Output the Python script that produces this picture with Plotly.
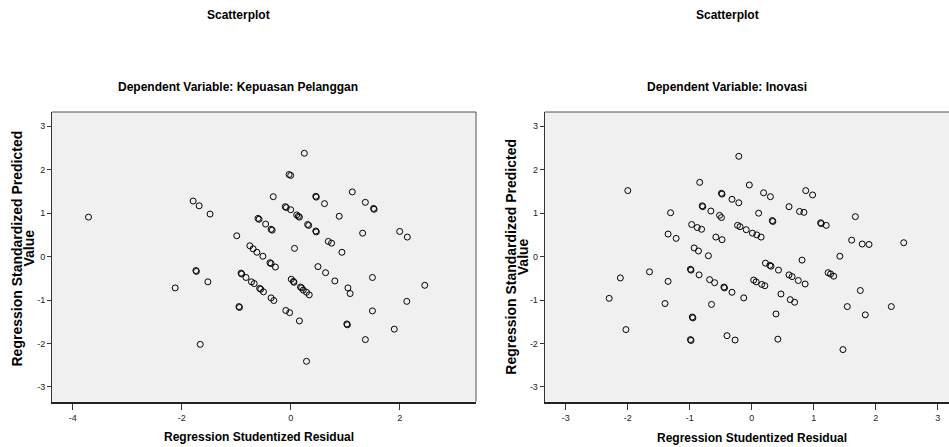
import plotly.graph_objects as go

W, H = 949, 447

# Left chart: Dependent Variable: Kepuasan Pelanggan
left_resid = [-3.71, 0.25, -0.03, 0.00, -1.79, -1.68, -1.48, -0.32, 0.46, 0.47, 0.62, 1.13, 1.37, 1.52, 1.53,
              -0.10, -0.08, 0.00, 0.11, 0.14, 0.16, 0.89, -0.60, -0.58, -0.46, -0.36, -0.34, 0.31, 0.33, 0.46,
              0.47, -0.99, 1.32, 2.00, 2.14, -0.75, -0.69, -0.62, -0.51, 0.07, 0.69, 0.75, 0.94, -0.38, -0.36,
              -0.28, -1.74, -1.73, -0.91, -0.90, -0.82, -0.72, -0.67, -1.52, -2.12, -0.57, -0.55, -0.50, -0.36,
              -0.31, 0.01, 0.05, 0.06, 0.50, 0.64, 0.81, 0.18, 0.20, 0.23, 0.29, 0.34, 1.05, 1.09, 1.50, 2.46,
              2.13, 1.50, 1.03, 1.04, 1.90, 1.37, -0.95, -0.94, -0.09, -0.02, 0.16, -1.66, 0.29]
left_pred = [0.91, 2.38, 1.89, 1.87, 1.28, 1.17, 0.98, 1.38, 1.39, 1.37, 1.22, 1.49, 1.25, 1.11, 1.09,
             1.15, 1.13, 1.08, 0.96, 0.93, 0.91, 0.93, 0.88, 0.86, 0.75, 0.63, 0.61, 0.74, 0.72, 0.59,
             0.57, 0.48, 0.54, 0.58, 0.45, 0.25, 0.18, 0.10, 0.01, 0.19, 0.35, 0.31, 0.10, -0.14, -0.16,
             -0.24, -0.32, -0.34, -0.38, -0.40, -0.48, -0.58, -0.62, -0.58, -0.72, -0.73, -0.75, -0.81, -0.95,
             -1.01, -0.52, -0.57, -0.59, -0.23, -0.37, -0.56, -0.70, -0.72, -0.77, -0.82, -0.88, -0.72, -0.85,
             -0.48, -0.66, -1.03, -1.25, -1.55, -1.57, -1.67, -1.91, -1.15, -1.17, -1.24, -1.29, -1.48, -2.02, -2.41]

# Right chart: Dependent Variable: Inovasi
right_resid = [-0.21, -2.00, -0.84, -0.04, -0.49, -0.48, -0.32, -0.21, 0.19, 0.30, 0.87, 0.98, -1.31, -0.80,
               -0.79, -0.66, -0.52, -0.49, 0.11, 0.33, 0.34, 0.60, 0.77, 0.84, 1.11, 1.12, 1.20, 1.67, -0.97,
               -0.88, -0.81, -0.23, -0.19, -0.09, 0.01, 0.08, 0.15, -1.35, -1.22, -0.58, -0.48, -0.93, -0.86,
               -0.70, 1.61, 1.78, 1.89, 2.45, 1.42, 0.81, 0.22, 0.29, 0.31, 0.43, 0.60, 0.65, 0.75, 0.86, 1.23,
               1.27, 1.32, 1.75, -1.65, -2.12, -1.35, -0.99, -0.98, -0.85, -0.68, -0.60, -0.45, -0.44, -0.32,
               0.03, 0.07, 0.16, 0.21, -0.13, 0.47, 0.62, 0.69, -2.30, -1.40, -0.65, 1.54, 2.25, 1.83, 0.39,
               -0.96, -0.95, -2.03, -0.99, -0.98, -0.40, -0.27, 0.42, 1.47]
right_pred = [2.31, 1.52, 1.71, 1.65, 1.46, 1.44, 1.32, 1.24, 1.47, 1.38, 1.52, 1.42, 1.01, 1.17, 1.15, 1.05,
              0.95, 0.90, 1.00, 0.83, 0.81, 1.15, 1.04, 1.02, 0.78, 0.76, 0.72, 0.92, 0.74, 0.67, 0.63, 0.72,
              0.69, 0.62, 0.54, 0.50, 0.45, 0.52, 0.42, 0.45, 0.39, 0.20, 0.13, 0.02, 0.38, 0.29, 0.28, 0.32,
              0.01, -0.08, -0.15, -0.20, -0.22, -0.31, -0.42, -0.46, -0.55, -0.63, -0.37, -0.40, -0.45, -0.78,
              -0.35, -0.49, -0.57, -0.29, -0.31, -0.42, -0.53, -0.60, -0.70, -0.72, -0.82, -0.54, -0.58, -0.64,
              -0.67, -0.95, -0.86, -0.99, -1.05, -0.96, -1.08, -1.10, -1.15, -1.15, -1.34, -1.32, -1.39, -1.41,
              -1.68, -1.91, -1.93, -1.82, -1.92, -1.90, -2.14]

left_xticks = [-4, -2, 0, 2]
right_xticks = [-3, -2, -1, 0, 1, 2, 3]
yticks = [-3, -2, -1, 0, 1, 2, 3]

main_title = "Scatterplot"
left_subtitle = "Dependent Variable: Kepuasan Pelanggan"
right_subtitle = "Dependent Variable: Inovasi"
x_title = "Regression Studentized Residual"
y_title_line1 = "Regression Standardized Predicted"
y_title_line2 = "Value"

FONT = "Liberation Sans, Arial, sans-serif"

def px(x):
    return x / W

def py(y):
    return 1 - y / H

def labels(vals):
    return [str(v) for v in vals]

marker = dict(symbol="circle-open", size=6, color="#000000", line=dict(width=1, color="#000000"))

fig = go.Figure()
fig.add_trace(go.Scatter(x=left_resid, y=left_pred, mode="markers", marker=marker,
                         xaxis="x", yaxis="y", showlegend=False, hoverinfo="x+y"))
fig.add_trace(go.Scatter(x=right_resid, y=right_pred, mode="markers", marker=marker,
                         xaxis="x2", yaxis="y2", showlegend=False, hoverinfo="x+y"))

ydom = [py(401.7), py(112)]
axis_common = dict(showgrid=False, zeroline=False, ticks="outside", tickcolor="#333333",
                   tickfont=dict(family=FONT, size=9, color="#222222"), fixedrange=True)

fig.update_layout(
    width=W, height=H,
    margin=dict(l=0, r=0, t=0, b=0),
    paper_bgcolor="white",
    plot_bgcolor="#F0F0F0",
    font=dict(family=FONT),
    xaxis=dict(domain=[px(52), px(476)], range=[-4.38, 3.40], tickvals=left_xticks,
               ticktext=labels(left_xticks),
               anchor="y", showline=True, linecolor="#222222", linewidth=2, mirror=False,
               ticklen=6, **axis_common),
    yaxis=dict(domain=ydom, range=[-3.34, 3.33], tickvals=yticks, ticktext=labels(yticks), anchor="x",
               showline=True, linecolor="#333333", linewidth=1, ticklen=4, **axis_common),
    xaxis2=dict(domain=[px(544.7), 1.0], range=[-3.34, 3.18], tickvals=right_xticks,
                ticktext=labels(right_xticks),
                anchor="y2", showline=True, linecolor="#222222", linewidth=2,
                ticklen=6, **axis_common),
    yaxis2=dict(domain=ydom, range=[-3.34, 3.33], tickvals=yticks, ticktext=labels(yticks), anchor="x2",
                showline=True, linecolor="#333333", linewidth=1, ticklen=4, **axis_common),
)

# frame lines (top & right of left chart, top of right chart)
fig.add_shape(type="line", xref="x domain", yref="y domain", x0=0, x1=1, y0=1, y1=1,
              line=dict(color="#555555", width=1))
fig.add_shape(type="line", xref="x domain", yref="y domain", x0=1, x1=1, y0=0, y1=1,
              line=dict(color="#555555", width=1))
fig.add_shape(type="line", xref="x2 domain", yref="y2 domain", x0=0, x1=1, y0=1, y1=1,
              line=dict(color="#555555", width=1))

def ann(text, x, y, size, angle=0):
    fig.add_annotation(text=text, xref="paper", yref="paper", x=px(x), y=py(y),
                       xanchor="center", yanchor="middle", showarrow=False, textangle=angle,
                       font=dict(family=FONT, size=size, color="#000000"))

ann("<b>%s</b>" % main_title, 238.5, 15, 12)
ann("<b>%s</b>" % left_subtitle, 238.5, 87, 12)
ann("<b>%s</b>" % main_title, 727.5, 15, 12)
ann("<b>%s</b>" % right_subtitle, 727, 87, 12)
ann("<b>%s</b>" % x_title, 259, 437, 12)
ann("<b>%s</b>" % x_title, 752, 438, 12)
ann("<b>%s</b>" % y_title_line1, 17, 248.5, 14, -90)
ann("<b>%s</b>" % y_title_line2, 29, 248.5, 14, -90)
ann("<b>%s</b>" % y_title_line1, 511, 256.7, 14, -90)
ann("<b>%s</b>" % y_title_line2, 522.5, 256.7, 14, -90)

fig.write_html("out.html")
